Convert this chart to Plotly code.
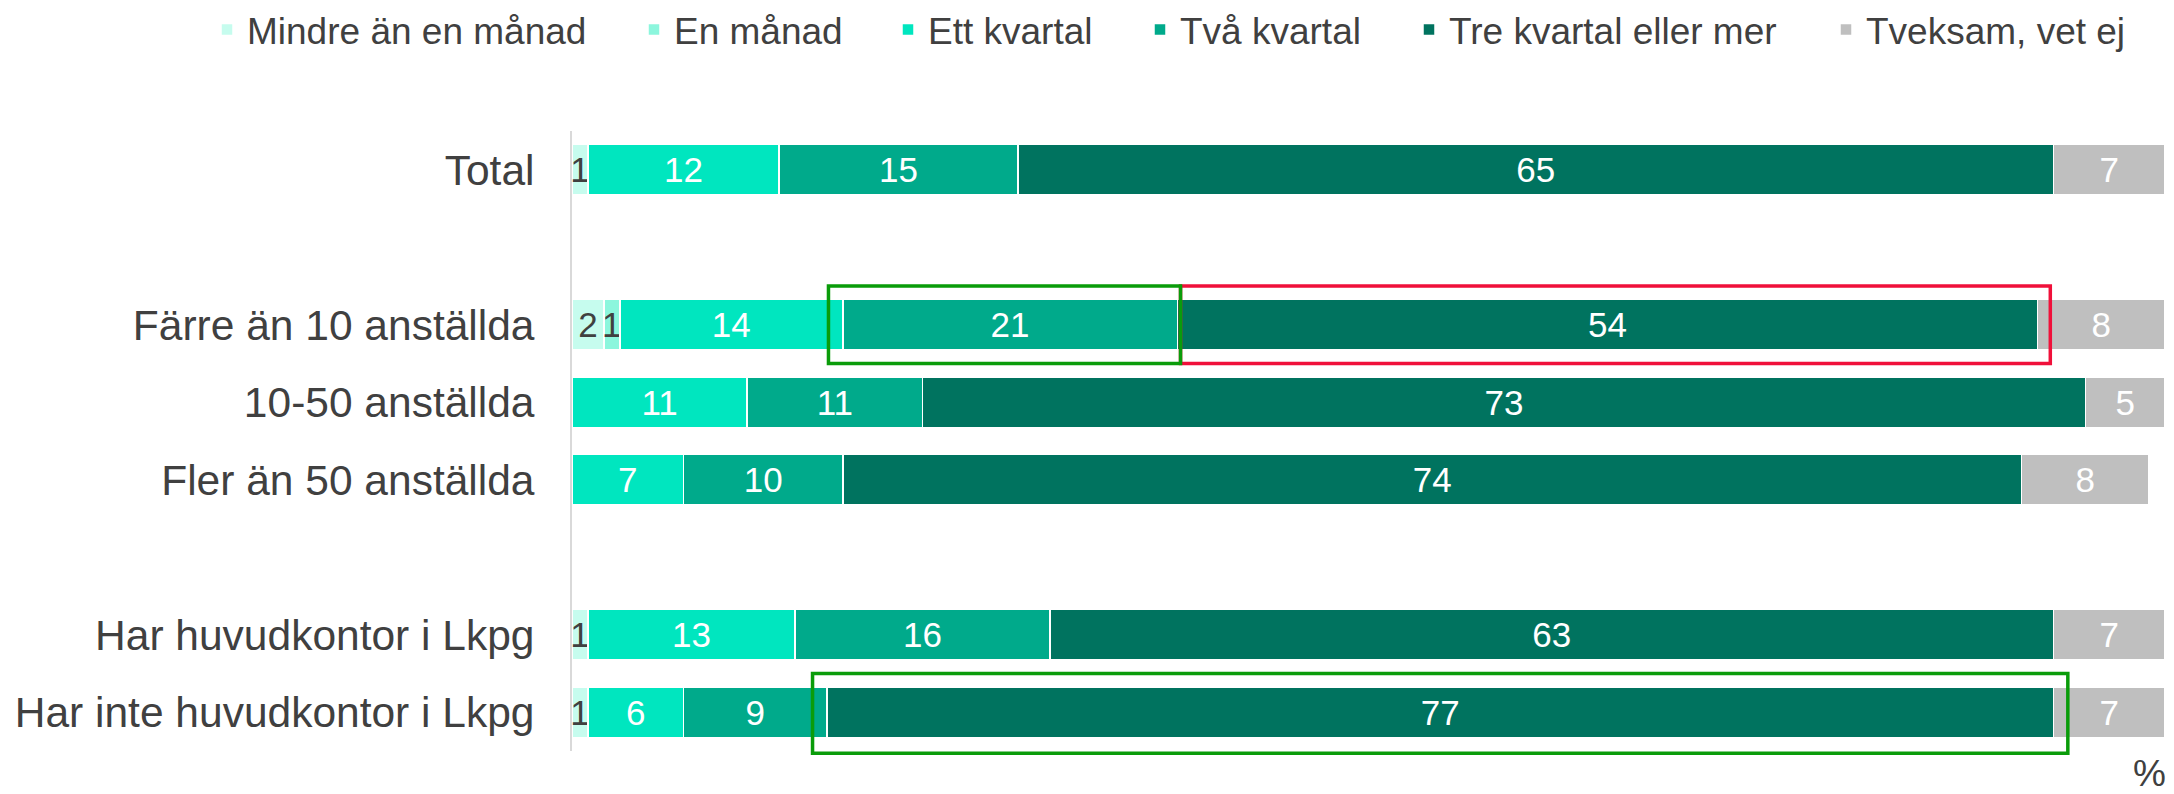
import plotly.graph_objects as go

FONT = "Liberation Sans, Arial, sans-serif"
TEXT_DARK = "#404040"

# Rows of the chart, top to bottom (blank entries give the visual group gaps)
rows = ["Total", "Färre än 10 anställda", "10-50 anställda", "Fler än 50 anställda",
        "Har huvudkontor i Lkpg", "Har inte huvudkontor i Lkpg"]
axis_order = ["Total", " ", "Färre än 10 anställda", "10-50 anställda",
              "Fler än 50 anställda", "  ", "Har huvudkontor i Lkpg",
              "Har inte huvudkontor i Lkpg"]

series_names = ["Mindre än en månad", "En månad", "Ett kvartal", "Två kvartal",
                "Tre kvartal eller mer", "Tveksam, vet ej"]

# Share of respondents (%) per answer
mindre_an_en_manad = [1, 2, None, None, 1, 1]
en_manad = [None, 1, None, None, None, None]
ett_kvartal = [12, 14, 11, 7, 13, 6]
tva_kvartal = [15, 21, 11, 10, 16, 9]
tre_kvartal_eller_mer = [65, 54, 73, 74, 63, 77]
tveksam_vet_ej = [7, 8, 5, 8, 7, 7]

series_values = [mindre_an_en_manad, en_manad, ett_kvartal, tva_kvartal,
                 tre_kvartal_eller_mer, tveksam_vet_ej]

bar_colors = ["#c6fcee", "#8cf6dd", "#00e6bf", "#00aa8b", "#00735f", "#bfbfbf"]
label_colors = [TEXT_DARK, TEXT_DARK, "white", "white", "white", "white"]

# Legend entry positions (centre of the colour square, px from the left edge)
legend_square_x = [227, 654, 908, 1160, 1429, 1846]
legend_ids = ["legend", "legend2", "legend3", "legend4", "legend5", "legend6"]

fig = go.Figure()
for name, vals, col, lcol, lid in zip(series_names, series_values, bar_colors,
                                       label_colors, legend_ids):
    fig.add_trace(go.Bar(
        y=rows, x=vals, orientation="h", name=name,
        marker=dict(color=col, line=dict(color="white", width=1.5)),
        text=[str(v) if v else "" for v in vals],
        textposition="inside", insidetextanchor="middle", textangle=0,
        constraintext="none",
        textfont=dict(family=FONT, size=35, color=lcol),
        legend=lid, hoverinfo="skip",
    ))

W, H = 2174, 794
n_slots = len(axis_order)


def paper_y(pos):
    # category axis runs reversed from -0.5 (top) to n_slots-0.5 (bottom)
    return (n_slots - 0.5 - pos) / n_slots


def segment_bounds(row, series_idx):
    r = rows.index(row)
    start = sum(series_values[k][r] or 0 for k in range(series_idx))
    return start, start + (series_values[series_idx][r] or 0)


farre = "Färre än 10 anställda"
har_inte = "Har inte huvudkontor i Lkpg"
fi = axis_order.index(farre)
hi = axis_order.index(har_inte)

tva_s, tva_e = segment_bounds(farre, 3)
tre_s, tre_e = segment_bounds(farre, 4)
hi_s, hi_e = segment_bounds(har_inte, 4)

RED, GREEN = "#f0103a", "#0a9c0a"
shapes = [
    dict(type="rect", xref="x", yref="paper", x0=tva_e + 0.2, x1=tre_e + 0.8,
         y0=paper_y(fi + 0.5), y1=paper_y(fi - 0.5),
         line=dict(color=RED, width=3.5), fillcolor="rgba(0,0,0,0)"),
    dict(type="rect", xref="x", yref="paper", x0=tva_s - 0.9, x1=tva_e + 0.2,
         y0=paper_y(fi + 0.5), y1=paper_y(fi - 0.5),
         line=dict(color=GREEN, width=3.5), fillcolor="rgba(0,0,0,0)"),
    dict(type="rect", xref="x", yref="paper", x0=hi_s - 0.9, x1=hi_e + 0.9,
         y0=paper_y(hi + 0.53), y1=paper_y(hi - 0.5),
         line=dict(color=GREEN, width=3.5), fillcolor="rgba(0,0,0,0)"),
]

layout_legends = {}
for lid, sx in zip(legend_ids, legend_square_x):
    layout_legends[lid] = dict(
        orientation="h", xref="container", yref="container",
        x=(sx - 20) / W, xanchor="left", y=1 - 30 / H, yanchor="middle",
        font=dict(family=FONT, size=37, color=TEXT_DARK),
        bgcolor="rgba(0,0,0,0)", borderwidth=0,
    )

fig.update_layout(
    width=W, height=H,
    barmode="stack", bargap=0.35,
    paper_bgcolor="white", plot_bgcolor="white",
    margin=dict(l=572, r=9, t=131, b=43),
    font=dict(family=FONT, color=TEXT_DARK),
    xaxis=dict(range=[0, 100], visible=False, fixedrange=True),
    yaxis=dict(type="category", categoryorder="array", categoryarray=axis_order,
               range=[n_slots - 0.5, -0.5], showline=True, linecolor="#d9d9d9",
               linewidth=2, ticks="", showgrid=False, zeroline=False,
               ticklabelstandoff=27,
               tickfont=dict(family=FONT, size=42.5, color=TEXT_DARK)),
    shapes=shapes,
    annotations=[dict(text="%", xref="paper", yref="paper", x=1, y=0,
                      xanchor="right", yanchor="middle", xshift=3, yshift=-22,
                      showarrow=False,
                      font=dict(family=FONT, size=37, color=TEXT_DARK))],
    showlegend=True,
    **layout_legends,
)

fig.write_html("out.html")
